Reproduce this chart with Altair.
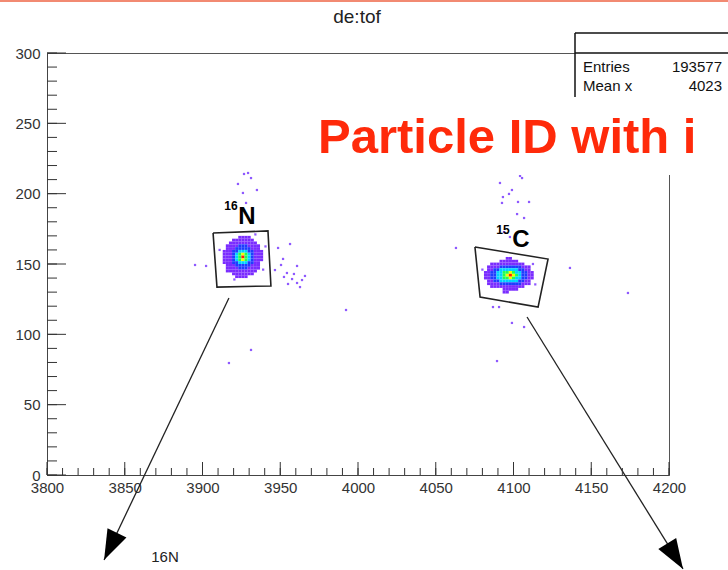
import altair as alt
import pandas as pd

# ---------------- axes ----------------
X_DOMAIN = [3800, 4200]
Y_DOMAIN = [0, 300]
X_LABELS = [3800, 3850, 3900, 3950, 4000, 4050, 4100, 4150, 4200]
Y_LABELS = [0, 50, 100, 150, 200, 250, 300]
X_MINOR = list(range(3800, 4201, 10))
Y_MINOR = list(range(0, 301, 10))

# ---------------- de:tof histogram, 2x2 bins ----------------
# colour level per bin (0 = empty), rows listed from top to bottom
BIN = 2
N16_X0, N16_YTOP = 3914, 169
N16_ROWS = [
    "0000011110000",
    "0001111111000",
    "0011111111100",
    "0111122211110",
    "0111222221110",
    "1112233322111",
    "1112345432111",
    "1112346432111",
    "1112345432111",
    "1112233322110",
    "0111222221110",
    "0111122211110",
    "0111111111100",
    "0001111111000",
    "0000111100000",
]
C15_X0, C15_YTOP = 4082, 154
C15_ROWS = [
    "0000000110000000",
    "0000011111100000",
    "0011111111111000",
    "0111122222221110",
    "0112233333322110",
    "1122334454332211",
    "1122334565432211",
    "1122334454332211",
    "0112233333322110",
    "0111122222221110",
    "0011111111111000",
    "0000001111100000",
    "0000001100000000",
]
LEVELS = [1, 2, 3, 4, 5, 6]
PALETTE = ["#7a2cff", "#1f3cff", "#00d2ff", "#20ff50", "#f0ff00", "#ff2200"]

# single-count bins away from the two peaks
SPARSE_X = [3926.7, 3929.3, 3931.2, 3926.0, 3935.0, 3928.0, 3922.8,
            3948.6, 3956.3, 3951.8, 3960.8, 3954.3, 3957.6, 3960.8, 3964.0,
            3955.0, 3965.9, 3946.6, 3950.5, 3962.7, 3958.8, 3952.4,
            3895.2, 3902.3, 3931.2, 3917.0, 3992.3,
            4104.2, 4105.5, 4091.3, 4099.0, 4097.1, 4093.2, 4092.6, 4102.9,
            4110.0, 4102.3, 4106.8, 4097.7, 4093.9,
            4099.0, 4106.8, 4086.8, 4090.7, 4136.3, 4089.4, 4173.6, 4063.0,
            3911.0, 3940.5, 3939.0, 3920.5, 3934.0, 4080.0, 4112.5, 4114.0]
SPARSE_Y = [214.0, 214.7, 211.1, 200.5, 202.6, 193.4, 206.9,
            161.4, 164.2, 153.6, 148.6, 143.6, 139.3, 136.5, 138.6,
            135.8, 141.5, 145.7, 149.3, 133.6, 142.9, 140.8,
            149.3, 148.6, 88.9, 79.6, 117.3,
            212.6, 211.1, 207.6, 202.6, 199.8, 197.6, 193.4, 194.1,
            194.1, 185.5, 182.7, 169.2, 172.7,
            108.1, 105.2, 119.4, 119.4, 147.2, 81.0, 129.4, 161.4,
            160.0, 162.5, 146.0, 139.0, 171.0, 146.0, 150.0, 135.5]

# graphical cuts around the two isotopes
CUT16_X = [3906.8, 3942.1, 3944.0, 3909.3, 3906.8]
CUT16_Y = [172.0, 173.5, 134.4, 133.6, 172.0]
CUT15_X = [4075.2, 4122.2, 4115.8, 4078.5, 4075.2]
CUT15_Y = [162.1, 153.5, 119.4, 126.5, 162.1]

# arrows leading out of the cuts (start, tip, heading in degrees)
ARROW_X0 = [3917.0, 4108.7]
ARROW_Y0 = [125.8, 112.3]
ARROW_X1 = [3836.7, 4209.0]
ARROW_Y1 = [-60.4, -66.8]
ARROW_ANGLE = [205.5, 148.3]

# isotope labels: mass number (superscript) and element
ISO_MASS = ["16", "15"]
ISO_MASS_X = [3918.3, 4093.2]
ISO_MASS_Y = [188.4, 171.3]
ISO_ELEM = ["N", "C"]
ISO_ELEM_X = [3928.6, 4104.8]
ISO_ELEM_Y = [178.4, 162.1]

STATS_NAMES = ["Entries", "Mean x"]
STATS_VALUES = ["193577", "4023"]

W, H = 622, 422
XS = alt.Scale(domain=X_DOMAIN, nice=False, zero=False)
YS = alt.Scale(domain=Y_DOMAIN, nice=False, zero=False)
X_AXIS = alt.Axis(values=X_LABELS, format="d", ticks=False, tickSize=0, grid=False, title=None,
                  labelFontSize=15, labelColor="#333", labelPadding=5,
                  domainColor="#444", labelFlush=False, labelOverlap=False)
Y_AXIS = alt.Axis(values=Y_LABELS, format="d", ticks=False, tickSize=0, grid=False, title=None,
                  labelFontSize=15, labelColor="#333", labelPadding=7,
                  domainColor="#444", labelFlush=False, labelOverlap=False)


def bins(rows, x0, ytop):
    recs = []
    for r, row in enumerate(rows):
        for c, ch in enumerate(row):
            lvl = int(ch)
            if lvl:
                xc = x0 + c * BIN
                yc = ytop - r * BIN
                recs.append({"x": xc - BIN / 2, "x2": xc + BIN / 2,
                             "y": yc - BIN / 2, "y2": yc + BIN / 2, "level": lvl})
    return recs


cells = pd.DataFrame(bins(N16_ROWS, N16_X0, N16_YTOP) + bins(C15_ROWS, C15_X0, C15_YTOP))

heat = alt.Chart(cells).mark_rect().encode(
    x=alt.X("x:Q", scale=XS, axis=X_AXIS),
    x2="x2",
    y=alt.Y("y:Q", scale=YS, axis=Y_AXIS),
    y2="y2",
    color=alt.Color("level:O", scale=alt.Scale(domain=LEVELS, range=PALETTE), legend=None),
)

sparse = alt.Chart(pd.DataFrame({"x": SPARSE_X, "y": SPARSE_Y})).mark_square(
    size=5, color="#7a3cff", opacity=0.85).encode(
    x=alt.X("x:Q", scale=XS, axis=X_AXIS), y=alt.Y("y:Q", scale=YS, axis=Y_AXIS))

cut_df = pd.DataFrame({
    "x": CUT16_X + CUT15_X,
    "y": CUT16_Y + CUT15_Y,
    "cut": ["16N"] * len(CUT16_X) + ["15C"] * len(CUT15_X),
    "i": list(range(len(CUT16_X))) + list(range(len(CUT15_X))),
})
cuts = alt.Chart(cut_df).mark_line(color="#222", strokeWidth=1.6).encode(
    x=alt.X("x:Q", scale=XS, axis=X_AXIS), y=alt.Y("y:Q", scale=YS, axis=Y_AXIS),
    detail="cut:N", order="i:Q")

arrow_df = pd.DataFrame({
    "x": ARROW_X0 + ARROW_X1,
    "y": ARROW_Y0 + ARROW_Y1,
    "a": [0, 1, 0, 1],
    "i": [0, 0, 1, 1],
})
arrow_lines = alt.Chart(arrow_df).mark_line(color="#222", strokeWidth=1.3).encode(
    x=alt.X("x:Q", scale=XS, axis=X_AXIS), y=alt.Y("y:Q", scale=YS, axis=Y_AXIS),
    detail="a:N", order="i:Q")
arrow_heads = alt.Chart(pd.DataFrame({"x": ARROW_X1, "y": ARROW_Y1, "ang": ARROW_ANGLE})).mark_point(
    shape="M0,0L-0.7,2L0.7,2Z", filled=True, color="#000", opacity=1, size=900).encode(
    x=alt.X("x:Q", scale=XS, axis=X_AXIS), y=alt.Y("y:Q", scale=YS, axis=Y_AXIS),
    angle=alt.Angle("ang:Q", scale=None))

mass_lbl = alt.Chart(pd.DataFrame({"t": ISO_MASS, "x": ISO_MASS_X, "y": ISO_MASS_Y})).mark_text(
    fontSize=12, fontWeight="bold", color="#000", align="center", baseline="alphabetic").encode(
    x=alt.X("x:Q", scale=XS, axis=X_AXIS), y=alt.Y("y:Q", scale=YS, axis=Y_AXIS), text="t:N")
elem_lbl = alt.Chart(pd.DataFrame({"t": ISO_ELEM, "x": ISO_ELEM_X, "y": ISO_ELEM_Y})).mark_text(
    fontSize=24, fontWeight="bold", color="#000", align="center", baseline="alphabetic").encode(
    x=alt.X("x:Q", scale=XS, axis=X_AXIS), y=alt.Y("y:Q", scale=YS, axis=Y_AXIS), text="t:N")

# inward tick marks on the frame
y_minor = alt.Chart(pd.DataFrame({"v": Y_MINOR})).mark_rule(color="#333", strokeWidth=1).encode(
    y=alt.Y("v:Q", scale=YS, axis=Y_AXIS), x=alt.value(0), x2=alt.value(10))
y_major = alt.Chart(pd.DataFrame({"v": Y_LABELS})).mark_rule(color="#333", strokeWidth=1).encode(
    y=alt.Y("v:Q", scale=YS, axis=Y_AXIS), x=alt.value(0), x2=alt.value(19))
x_minor = alt.Chart(pd.DataFrame({"v": X_MINOR})).mark_rule(color="#333", strokeWidth=1).encode(
    x=alt.X("v:Q", scale=XS, axis=X_AXIS), y=alt.value(H), y2=alt.value(H - 7))
x_major = alt.Chart(pd.DataFrame({"v": X_LABELS})).mark_rule(color="#333", strokeWidth=1).encode(
    x=alt.X("v:Q", scale=XS, axis=X_AXIS), y=alt.value(H), y2=alt.value(H - 13))

one = pd.DataFrame({"k": [0]})

# statistics box (top right)
stats_bg = alt.Chart(one).mark_rect(fill="white", stroke=None).encode(
    x=alt.value(528), x2=alt.value(720), y=alt.value(-20), y2=alt.value(50))
stats_top = alt.Chart(one).mark_rule(color="#111", strokeWidth=1.5).encode(
    x=alt.value(528), x2=alt.value(720), y=alt.value(-20))
stats_sep = alt.Chart(one).mark_rule(color="#111", strokeWidth=1.5).encode(
    x=alt.value(528), x2=alt.value(720), y=alt.value(0))
stats_left = alt.Chart(one).mark_rule(color="#111", strokeWidth=1.5).encode(
    x=alt.value(528), y=alt.value(-20), y2=alt.value(44))
stats_names = alt.Chart(pd.DataFrame({"t": STATS_NAMES, "yy": [19, 38]})).mark_text(
    fontSize=15, color="#111", align="left", baseline="alphabetic").encode(
    x=alt.value(536), y=alt.YValue if False else alt.Y("yy:Q", scale=None), text="t:N")
stats_vals = alt.Chart(pd.DataFrame({"t": STATS_VALUES, "yy": [19, 38]})).mark_text(
    fontSize=15, color="#111", align="right", baseline="alphabetic").encode(
    x=alt.value(675), y=alt.Y("yy:Q", scale=None), text="t:N")

# slide overlay
banner_bg = alt.Chart(one).mark_rect(fill="white", stroke=None).encode(
    x=alt.value(253), x2=alt.value(720), y=alt.value(44), y2=alt.value(122))
banner = alt.Chart(pd.DataFrame({"t": ["Particle ID with i"]})).mark_text(
    fontSize=49, fontWeight="bold", color="#ff2a0a", align="left", baseline="alphabetic").encode(
    x=alt.value(271), y=alt.value(100), text="t:N")
top_line = alt.Chart(one).mark_rule(color="#f28a72", strokeWidth=2).encode(
    x=alt.value(-47), x2=alt.value(720), y=alt.value(-52))
title = alt.Chart(pd.DataFrame({"t": ["de:tof"]})).mark_text(
    fontSize=19, color="#222", align="center", baseline="alphabetic").encode(
    x=alt.value(310), y=alt.value(-30), text="t:N")
note = alt.Chart(pd.DataFrame({"t": ["16N"]})).mark_text(
    fontSize=15, color="#222", align="center", baseline="alphabetic").encode(
    x=alt.value(118), y=alt.value(509), text="t:N")

chart = alt.layer(
    heat, sparse, cuts, arrow_lines, arrow_heads, mass_lbl, elem_lbl,
    y_minor, y_major, x_minor, x_major,
    stats_bg, stats_top, stats_sep, stats_left, stats_names, stats_vals,
    banner_bg, banner, top_line, title, note,
).properties(
    width=W, height=H,
    padding={"left": 47, "top": 53, "right": 59, "bottom": 95},
    autosize=alt.AutoSizeParams(type="none"),
    background="white",
).configure(font="Liberation Sans").configure_view(stroke="#555", strokeWidth=1)

chart.save("out.html", embed_options={"renderer": "svg", "actions": False})
